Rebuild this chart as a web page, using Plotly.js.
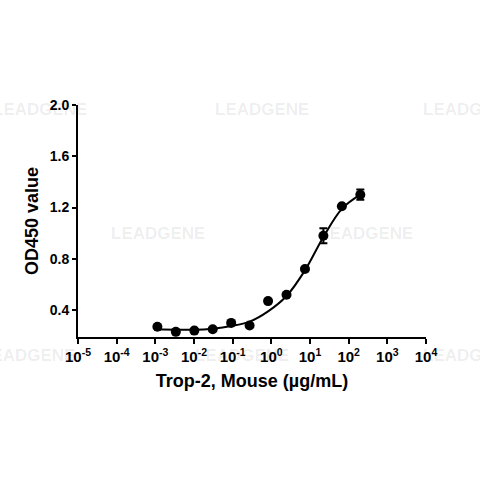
<!DOCTYPE html>
<html>
<head>
<meta charset="utf-8">
<script src="https://cdn.plot.ly/plotly-3.0.1.min.js"></script>
<style>
  html, body { margin: 0; padding: 0; background: #fff; }
  #graph1 { width: 480px; height: 480px; }
</style>
</head>
<body>
<div id="graph1"></div>
<script>
// measured points, 3-fold dilution from 200 ug/mL
var conc = [0.00113, 0.00339, 0.0102, 0.0305, 0.0914, 0.274, 0.823, 2.47, 7.41, 22.2, 66.7, 200];
var od = [0.27, 0.23, 0.24, 0.25, 0.30, 0.28, 0.47, 0.52, 0.72, 0.98, 1.21, 1.30];
var odErr = [0, 0, 0, 0, 0, 0, 0, 0, 0, 0.058, 0, 0.04];

// fitted curve
var fitConc = [0.00113, 0.00339, 0.0102, 0.0305, 0.0914, 0.274, 0.823, 2.47, 7.41, 22.2, 66.7, 200];
var fitOd = [0.25, 0.247, 0.246, 0.255, 0.275, 0.31, 0.39, 0.51, 0.71, 0.97, 1.19, 1.30];

var xExp = [-5, -4, -3, -2, -1, 0, 1, 2, 3, 4];
var yTicks = [0.4, 0.8, 1.2, 1.6, 2.0];

var wmText = 'LEADGENE';

function buildGraph() {
  var font = 'Liberation Sans, Arial, sans-serif';

  var xTickVals = xExp.map(function (e) { return Math.pow(10, e); });
  var xTickText = xExp.map(function (e) {
    return '10<sup>' + (e < 0 ? '-' + Math.abs(e) : e) + '</sup>';
  });

  var fitTrace = {
    x: fitConc,
    y: fitOd,
    mode: 'lines',
    line: { color: '#000', width: 2, shape: 'spline', smoothing: 1 },
    hoverinfo: 'skip'
  };
  var pointTrace = {
    x: conc,
    y: od,
    mode: 'markers',
    marker: { color: '#000', size: 10 },
    error_y: { type: 'data', array: odErr, visible: true, color: '#000', thickness: 2, width: 4 }
  };

  // faint see-through watermark texts (pixel centres -> paper coords)
  var wm = [[40, 109], [262, 109], [470, 109], [158, 233], [366, 233], [28, 355], [242, 355], [470, 355]];
  var annotations = wm.map(function (p) {
    return {
      xref: 'paper', yref: 'paper',
      x: (p[0] - 78) / 348, y: (337 - p[1]) / 232,
      xanchor: 'center', yanchor: 'middle',
      text: wmText, showarrow: false,
      font: { family: font, size: 17, color: 'rgba(0,0,0,0.08)' }
    };
  });

  var layout = {
    width: 480,
    height: 480,
    margin: { l: 78, r: 54, t: 105, b: 143 },
    paper_bgcolor: '#fff',
    plot_bgcolor: 'rgba(0,0,0,0)',
    showlegend: false,
    font: { family: font, color: '#000', weight: 'bold' },
    annotations: annotations,
    xaxis: {
      type: 'log',
      range: [-5, 4],
      tickmode: 'array',
      tickvals: xTickVals,
      ticktext: xTickText,
      ticks: 'outside', ticklen: 5, tickwidth: 2, tickcolor: '#000',
      showline: true, linewidth: 2, linecolor: '#000',
      showgrid: false, zeroline: false,
      tickfont: { size: 15, family: font, weight: 'bold' },
      title: { text: 'Trop-2, Mouse (µg/mL)', font: { size: 18, family: font, weight: 'bold' }, standoff: 10 }
    },
    yaxis: {
      range: [0.19, 2.0],
      tickmode: 'array',
      tickvals: yTicks,
      ticktext: yTicks.map(function (v) { return v.toFixed(1); }),
      ticks: 'outside', ticklen: 4, tickwidth: 2, tickcolor: '#000',
      showline: true, linewidth: 2, linecolor: '#000',
      showgrid: false, zeroline: false,
      tickfont: { size: 14, family: font, weight: 'bold' },
      title: { text: 'OD450 value', font: { size: 18, family: font, weight: 'bold' }, standoff: 6 }
    }
  };

  Plotly.newPlot('graph1', [fitTrace, pointTrace], layout, { displayModeBar: false, staticPlot: true });
}

buildGraph();
</script>
</body>
</html>
